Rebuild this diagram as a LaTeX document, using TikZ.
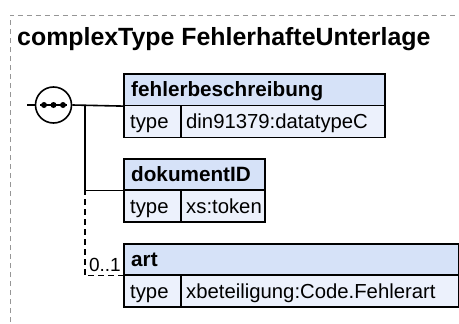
\documentclass[tikz,border=0pt]{standalone}
\usepackage{fontspec}
\setmainfont{Liberation Sans}
\definecolor{hdr}{RGB}{214,226,248}
\definecolor{typ}{RGB}{236,241,252}
\definecolor{framec}{RGB}{150,150,150}
\begin{document}
\begin{tikzpicture}[x=1pt,y=-1pt,
  cell/.style={draw=black, line width=1.6pt, inner sep=0pt, anchor=north west},
  hcell/.style={cell, fill=hdr},
  tcell/.style={cell, fill=typ},
  conn/.style={line width=1.6pt},
  opt/.style={line width=1.6pt, dash pattern=on 6pt off 4pt},
  htext/.style={anchor=base west, inner sep=0pt, font=\fontsize{20.7}{24}\selectfont\bfseries},
  ttext/.style={anchor=base west, inner sep=0pt, font=\fontsize{20.3}{24}\selectfont}]
\useasboundingbox (0,0) rectangle (459,324);
\begin{scope}
\clip (0,0) rectangle (459,324);
\draw[framec, line width=1pt, dash pattern=on 5pt off 4pt] (10,340) |- (480,15);
\end{scope}
\node[anchor=base west, inner sep=0pt, font=\fontsize{24.9}{30}\selectfont\bfseries] (title) at (17,45.5) {complexType FehlerhafteUnterlage};

% sequence symbol
\node[draw, circle, minimum size=36pt, line width=1.6pt, fill=white, inner sep=0pt] (seq) at (53.5,105) {};
\draw[line width=1.6pt] (40,105) -- (67,105);
\foreach \x in {44,53.5,63} \fill (\x,105) circle (3);

% box 1
\node[hcell, minimum width=261pt, minimum height=31.5pt] (h1) at (123,73) {};
\node[tcell, minimum width=57pt, minimum height=32pt] (k1) at (123,104.5) {};
\node[tcell, minimum width=204pt, minimum height=32pt] (v1) at (180,104.5) {};
\node[htext] (n1) at (131,96.5) {fehlerbeschreibung};
\node[ttext] (kt1) at (130,128.5) {type};
\node[ttext] (vt1) at (186,128.5) {din91379:datatypeC};

% box 2
\node[hcell, minimum width=141pt, minimum height=31pt] (h2) at (123,158) {};
\node[tcell, minimum width=57pt, minimum height=32pt] (k2) at (123,189) {};
\node[tcell, minimum width=84pt, minimum height=32pt] (v2) at (180,189) {};
\node[htext] (n2) at (131,181) {dokumentID};
\node[ttext] (kt2) at (130,213) {type};
\node[ttext] (vt2) at (186,213) {xs:token};

% box 3
\node[hcell, minimum width=335pt, minimum height=31pt] (h3) at (123,243) {};
\node[tcell, minimum width=57pt, minimum height=32pt] (k3) at (123,274) {};
\node[tcell, minimum width=278pt, minimum height=32pt] (v3) at (180,274) {};
\node[htext] (n3) at (131,266) {art};
\node[ttext] (kt3) at (130,298) {type};
\node[ttext] (vt3) at (186,298) {xbeteiligung:Code.Fehlerart};

% connectors
\coordinate (in) at (27,105);
\coordinate (br) at (85,105);
\coordinate (br2) at (85,189);
\draw[conn] (in) -- (seq.west);
\draw[conn] (seq.east) -- (h1.south west);
\draw[conn] (br) |- (h2.south west);
\draw[opt] (br2) |- (h3.south west);
\node[anchor=base east, inner sep=0pt, font=\fontsize{19}{22}\selectfont] (m3) at (121,271) {0..1};
\end{tikzpicture}
\end{document}
